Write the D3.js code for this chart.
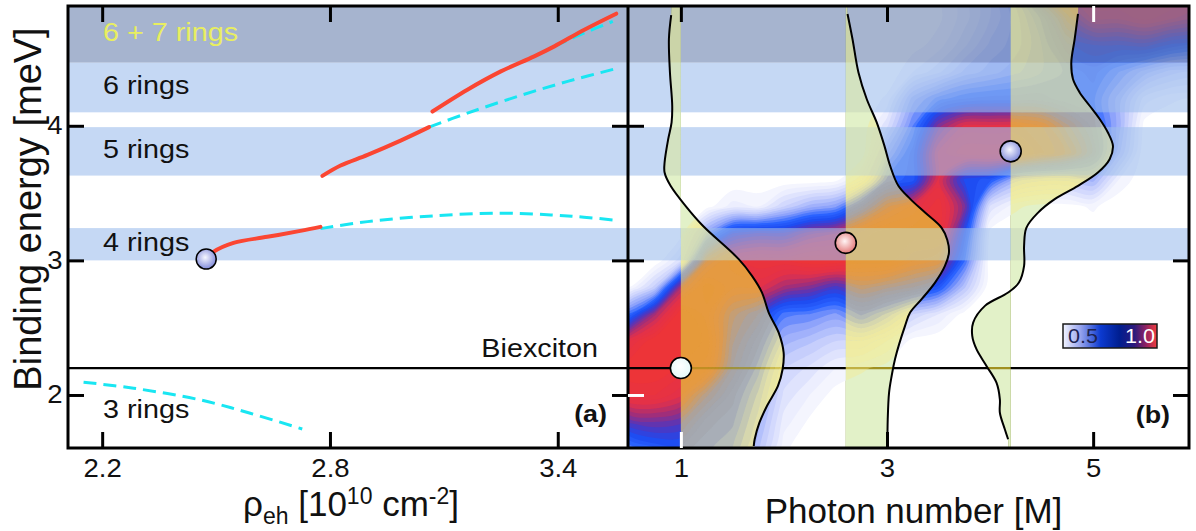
<!DOCTYPE html>
<html>
<head>
<meta charset="utf-8">
<script src="https://cdn.jsdelivr.net/npm/d3@7"></script>
<style>
  html, body { margin: 0; padding: 0; background: #ffffff; }
  svg { display: block; font-family: "Liberation Sans", Arial, Helvetica, sans-serif; }
</style>
</head>
<body>
<svg id="fig" width="1196" height="531"></svg>
<script>
// ---------------- data ----------------
// Ring-number energy bands [meV]
const bandLabels = ["4 rings", "5 rings", "6 rings", "6 + 7 rings"];
const bandLow    = [3.00, 3.63, 4.10, 4.47];
const bandHigh   = [3.24, 3.99, 4.47, 5.00];
const biexcitonEnergy = 2.2;

// Panel (a): binding energy vs pair density
const rhoTicks = [2.2, 2.8, 3.4];
const energyTicks = [2, 3, 4];
// ground-state branches (solid)
const groundRho = [
  [2.474, 2.493, 2.546, 2.635, 2.722, 2.775],
  [2.780, 2.828, 2.899, 2.986, 3.061],
  [3.070, 3.162, 3.250, 3.338, 3.391, 3.470, 3.554]
];
const groundE = [
  [3.010, 3.063, 3.130, 3.175, 3.219, 3.249],
  [3.628, 3.705, 3.784, 3.890, 3.990],
  [4.106, 4.268, 4.404, 4.516, 4.590, 4.714, 4.833]
];
// metastable continuations (dashed)
const excitedRho = [
  [2.151, 2.283, 2.459, 2.590, 2.727],
  [2.775, 2.899, 3.073, 3.250, 3.382, 3.469, 3.561],
  [3.061, 3.162, 3.294, 3.426, 3.561],
  [3.391, 3.470, 3.545]
];
const excitedE = [
  [2.095, 2.050, 1.963, 1.864, 1.747],
  [3.236, 3.288, 3.331, 3.351, 3.338, 3.321, 3.296],
  [3.990, 4.094, 4.218, 4.330, 4.430],
  [4.590, 4.690, 4.775]
];
const markerRho = 2.474, markerE = 3.01;

// Panel (b): binding-energy distribution vs photon number
const photonTicks = [1, 3, 5];
const photonGrid = [0.5, 0.75, 1.0, 1.25, 1.5, 1.75, 2.0, 2.25, 2.5, 2.75, 3.0, 3.25,
                    3.5, 3.75, 4.0, 4.25, 4.5, 4.75, 5.0, 5.25, 5.5, 5.75, 6.0];
const energyGrid = [1.6, 1.8, 2.0, 2.2, 2.4, 2.6, 2.8, 3.0, 3.2, 3.4, 3.6, 3.8, 4.0, 4.2, 4.4, 4.6, 4.8, 5.0];
// one row per energy (low to high), one value per photon number
const density = [
  [0.40,0.48,0.50,0.45,0.40,0.25,0.05,0,0,0,0,0,0,0,0,0,0,0,0,0,0,0,0],
  [0.65,0.68,0.65,0.50,0.45,0.30,0.10,0.03,0,0,0,0,0,0,0,0,0,0,0,0,0,0,0],
  [0.92,0.92,0.85,0.65,0.50,0.35,0.15,0.08,0.02,0,0,0,0,0,0,0,0,0,0,0,0,0,0],
  [1.00,1.00,0.95,0.90,0.60,0.42,0.20,0.15,0.08,0.05,0.02,0,0,0,0,0,0,0,0,0,0,0,0],
  [0.88,1.00,1.00,0.95,0.65,0.50,0.30,0.25,0.20,0.20,0.12,0.02,0,0,0,0,0,0,0,0,0,0,0],
  [0.45,0.75,1.00,0.90,0.70,0.60,0.42,0.40,0.35,0.45,0.35,0.20,0.12,0.02,0,0,0,0,0,0,0,0,0],
  [0.04,0.22,0.75,0.95,0.85,0.85,0.75,0.70,0.62,0.70,0.65,0.60,0.50,0.25,0,0,0,0,0,0,0,0,0],
  [0,0,0.15,0.75,0.90,0.95,0.95,1.00,1.00,0.95,0.95,0.85,0.80,0.45,0,0,0,0,0,0,0,0,0],
  [0,0,0.02,0.35,0.60,0.65,0.65,0.75,0.80,0.90,0.95,0.95,0.95,0.55,0.02,0,0,0,0,0,0,0,0],
  [0,0,0,0.02,0.10,0.08,0.20,0.30,0.35,0.55,0.75,0.85,0.95,0.70,0.15,0.05,0.02,0.02,0.05,0,0,0,0],
  [0,0,0,0,0,0,0,0,0.02,0.15,0.45,0.50,0.85,0.55,0.50,0.30,0.25,0.25,0.30,0.08,0,0,0],
  [0,0,0,0,0,0,0,0,0,0,0.30,0.50,0.85,0.95,0.95,0.95,0.85,0.75,0.55,0.25,0,0,0],
  [0,0,0,0,0,0,0,0,0,0,0.15,0.40,0.70,0.85,0.85,0.85,0.80,0.65,0.50,0.30,0.02,0,0],
  [0,0,0,0,0,0,0,0,0,0,0.05,0.30,0.42,0.48,0.50,0.50,0.50,0.45,0.45,0.30,0.10,0.05,0.03],
  [0,0,0,0,0,0,0,0,0,0,0,0.08,0.15,0.25,0.30,0.35,0.40,0.45,0.50,0.40,0.30,0.22,0.18],
  [0,0,0,0,0,0,0,0,0,0,0,0.02,0.06,0.15,0.25,0.30,0.40,0.55,0.60,0.60,0.62,0.55,0.50],
  [0,0,0,0,0,0,0,0,0,0,0,0,0.03,0.10,0.20,0.30,0.45,0.70,0.85,0.85,0.90,0.85,0.80],
  [0,0,0,0,0,0,0,0,0,0,0,0,0.03,0.10,0.20,0.35,0.70,0.85,0.95,0.95,0.95,0.95,0.90]
];
// photon-number profiles at three energies
const profileBase = [1.0, 2.6, 4.2];
const profileE = [
  [4.823,4.645,4.396,4.149,4.025,3.901,3.727,3.653,3.554,3.405,3.257,3.009,2.885,2.761,2.612,2.463,2.314,2.191,2.067,1.918,1.794,1.671,1.621],
  [4.831,4.645,4.396,4.199,4.025,3.851,3.703,3.554,3.455,3.355,3.242,3.152,3.058,2.959,2.835,2.712,2.612,2.513,2.268,2.141,2.017,1.819,1.621],
  [4.831,4.645,4.471,4.347,4.248,4.149,4.050,3.950,3.851,3.752,3.653,3.554,3.455,3.355,3.242,3.108,2.959,2.835,2.761,2.662,2.538,2.439,2.340,2.216,2.091,1.968,1.868,1.745,1.671]
];
const profileN = [
  [0.906,0.884,0.894,0.916,0.910,0.877,0.842,0.842,0.900,1.045,1.213,1.561,1.690,1.787,1.852,1.949,1.997,1.987,1.942,1.835,1.762,1.716,1.707],
  [2.617,2.665,2.723,2.803,2.900,2.975,3.030,3.110,3.227,3.369,3.530,3.585,3.601,3.562,3.466,3.336,3.224,3.175,3.078,3.045,3.020,3.007,3.004],
  [4.853,4.821,4.788,4.804,4.869,4.966,5.063,5.143,5.192,5.160,5.046,4.853,4.627,4.466,4.352,4.330,4.330,4.280,4.175,3.950,3.836,3.827,3.868,3.965,4.062,4.095,4.095,4.143,4.175]
];
const pointN = [1.0, 2.6, 4.2];
const pointE = [2.2, 3.13, 3.81];
const colorbarTicks = ["0.5", "1.0"];

// ---------------- layout ----------------
const svg = d3.select("#fig");
const plotTop = 6, plotBottom = 448, leftA = 68, mid = 628, rightB = 1189;
const xA = d3.scaleLinear().domain([2.11, 3.585]).range([leftA, mid]);
const xB = d3.scaleLinear().domain([0.487, 5.93]).range([mid, rightB]);
const y  = d3.scaleLinear().domain([1.606, 4.89]).range([plotBottom, plotTop]);

const defs = svg.append("defs");
defs.append("clipPath").attr("id", "plotClip").append("rect")
  .attr("x", leftA).attr("y", plotTop).attr("width", rightB - leftA).attr("height", plotBottom - plotTop);
defs.append("clipPath").attr("id", "clipB").append("rect")
  .attr("x", mid).attr("y", plotTop).attr("width", rightB - mid).attr("height", plotBottom - plotTop);
const fillClip = defs.append("clipPath").attr("id", "fillClip");
// tint is subdued where the ring bands lie
const tintMask = defs.append("mask").attr("id", "tintMask").attr("maskUnits", "userSpaceOnUse")
  .attr("x", 0).attr("y", 0).attr("width", 1196).attr("height", 531);
tintMask.append("rect").attr("x", 0).attr("y", 0).attr("width", 1196).attr("height", 531).attr("fill", "#fff");
bandLow.forEach((lo, i) => {
  tintMask.append("rect").attr("x", leftA).attr("width", rightB - leftA)
    .attr("y", y(bandHigh[i])).attr("height", y(lo) - y(bandHigh[i])).attr("fill", "#404040");
});

function radial(id, inner, outer) {
  const g = defs.append("radialGradient").attr("id", id)
    .attr("cx", "45%").attr("cy", "42%").attr("r", "60%");
  g.append("stop").attr("offset", "0%").attr("stop-color", inner);
  g.append("stop").attr("offset", "100%").attr("stop-color", outer);
}
radial("dotBlue", "#f6f7ff", "#7d87d9");
radial("dotPink", "#fff4f4", "#e27676");
radial("dotWhite", "#ffffff", "#e4f8f8");
const markerFills = ["url(#dotWhite)", "url(#dotPink)", "url(#dotBlue)"];

const cb = defs.append("linearGradient").attr("id", "cbar");
[["0%", "#f2f4ff"], ["18%", "#9aa6ee"], ["40%", "#0c3ad0"], ["60%", "#001e90"],
 ["76%", "#2c1a7c"], ["88%", "#8e2262"], ["100%", "#f23c3c"]]
  .forEach(([o, c]) => cb.append("stop").attr("offset", o).attr("stop-color", c));

// colour map for the distribution
const heatColor = d3.scaleLinear()
  .domain([0, 0.10, 0.22, 0.34, 0.46, 0.55, 0.64, 0.74, 0.84, 1.0])
  .range(["#ffffff", "#eceefe", "#c6cefc", "#8ea3fb", "#2a62ff", "#1d4af0", "#5236bc", "#a02e7a", "#e2304a", "#ef3535"])
  .clamp(true);
// tint of the distribution as seen through the profile areas
const tintColor = d3.scaleLinear()
  .domain([0, 0.30, 0.45, 0.60, 0.75, 1.0])
  .range(["#fff08a", "#fff08a", "#9c9a8c", "#9c9a8c", "#f68c2a", "#f68c2a"]).clamp(true);
const tintOpacity = d3.scaleLinear()
  .domain([0.04, 0.10, 0.20, 0.30, 0.40, 0.50, 0.62, 0.75, 0.95])
  .range([0.35, 0.55, 0.62, 0.42, 0.25, 0.35, 0.25, 0.35, 0.4]).clamp(true);

const plot = svg.append("g").attr("clip-path", "url(#plotClip)");

// ---- heat map (filled iso-bands) ----
const nx = photonGrid.length, ny = energyGrid.length;
const levels = d3.range(0.04, 0.99, 0.04);
const bandsIso = d3.contours().size([nx, ny]).thresholds(levels)(density.flat());
const gxToN = d3.scaleLinear().domain([0.5, nx - 0.5]).range([photonGrid[0], photonGrid[nx - 1]]);
const gyToE = d3.scaleLinear().domain([0.5, ny - 0.5]).range([energyGrid[0], energyGrid[ny - 1]]);
const ringPath = d3.line()
  .x(p => xB(gxToN(p[0])))
  .y(p => y(gyToE(p[1])))
  .curve(d3.curveCatmullRomClosed.alpha(0.5));
const isoPath = c => c.coordinates.map(poly => poly.map(r => ringPath(r.slice(0, -1))).join("")).join("");
const heat = plot.append("g").attr("clip-path", "url(#clipB)");
heat.selectAll("path").data(bandsIso).join("path")
  .attr("fill-rule", "evenodd")
  .attr("fill", d => heatColor(d.value + 0.02))
  .attr("d", isoPath);

// ---- ring bands (translucent, across both panels) ----
plot.selectAll("rect.band").data(bandLabels).join("rect")
  .attr("class", "band")
  .attr("x", leftA).attr("width", rightB - leftA)
  .attr("y", (d, i) => y(bandHigh[i]))
  .attr("height", (d, i) => y(bandLow[i]) - y(bandHigh[i]))
  .attr("fill", (d, i) => i === bandLabels.length - 1 ? "#6b82af" : "#9ebeed")
  .attr("fill-opacity", 0.6);

// ---- biexciton level ----
plot.append("line")
  .attr("x1", leftA).attr("x2", rightB)
  .attr("y1", y(biexcitonEnergy)).attr("y2", y(biexcitonEnergy))
  .attr("stroke", "#000").attr("stroke-width", 2.2);

// ---- panel (a) curves ----
const lineA = d3.line().x(d => xA(d[0])).y(d => y(d[1])).curve(d3.curveCatmullRom.alpha(0.5));
excitedRho.forEach((xs, k) => {
  plot.append("path").attr("d", lineA(xs.map((v, i) => [v, excitedE[k][i]])))
    .attr("fill", "none").attr("stroke", "#19e6f2").attr("stroke-width", 3)
    .attr("stroke-dasharray", "13 7");
});
groundRho.forEach((xs, k) => {
  plot.append("path").attr("d", lineA(xs.map((v, i) => [v, groundE[k][i]])))
    .attr("fill", "none").attr("stroke", "#fb4632").attr("stroke-width", 4)
    .attr("stroke-linecap", "round");
});
plot.append("circle").attr("cx", xA(markerRho)).attr("cy", y(markerE)).attr("r", 10)
  .attr("fill", "url(#dotBlue)").attr("stroke", "#000").attr("stroke-width", 1.5);

// ---- panel (b) photon-number profiles ----
const eTop = y.domain()[1] + 0.1, eBot = y.domain()[0] - 0.1;
profileBase.forEach((base, k) => {
  const pts = profileE[k].map((e, i) => ({ e, n: profileN[k][i] }));
  const ext = [{ e: eTop, n: pts[0].n }, ...pts, { e: eBot, n: pts[pts.length - 1].n }];
  const area = d3.area().y(d => y(d.e)).x0(xB(base)).x1(d => xB(d.n)).curve(d3.curveCatmullRom.alpha(0.5));
  plot.append("path").attr("d", area(ext)).attr("fill", "#b2dfc0").style("mix-blend-mode", "multiply");
  plot.append("path").attr("d", area(ext)).attr("fill", "#a09020").style("mix-blend-mode", "screen");
  fillClip.append("path").attr("d", area(ext));
});
// distribution levels seen through the profile areas
const tint = plot.append("g").attr("clip-path", "url(#fillClip)").attr("mask", "url(#tintMask)");
bandsIso.forEach((c, k) => {
  const inner = k + 1 < bandsIso.length ? isoPath(bandsIso[k + 1]) : "";
  tint.append("path")
    .attr("d", isoPath(c) + inner)
    .attr("fill-rule", "evenodd")
    .attr("fill", tintColor(c.value))
    .attr("fill-opacity", tintOpacity(c.value));
});
const lineB = d3.line().x(d => xB(d.n)).y(d => y(d.e)).curve(d3.curveCatmullRom.alpha(0.5));
profileBase.forEach((base, k) => {
  plot.append("path")
    .attr("d", lineB(profileE[k].map((e, i) => ({ e, n: profileN[k][i] }))))
    .attr("fill", "none").attr("stroke", "#000").attr("stroke-width", 2);
});
pointN.forEach((n, i) => {
  plot.append("circle").attr("cx", xB(n)).attr("cy", y(pointE[i])).attr("r", 10.5)
    .attr("fill", markerFills[i]).attr("stroke", "#000").attr("stroke-width", 1.6);
});

// ---- colour bar ----
const cbg = svg.append("g");
cbg.append("rect").attr("x", 1063).attr("y", 324).attr("width", 94).attr("height", 24)
  .attr("fill", "url(#cbar)").attr("stroke", "#1a1a1a").attr("stroke-width", 1.5);
cbg.append("text").attr("transform", "translate(1068,343) scale(1.08,1)")
  .attr("font-size", 20).attr("fill", "#1c2352").text(colorbarTicks[0]);
cbg.append("text").attr("transform", "translate(1155,343) scale(1.08,1)")
  .attr("text-anchor", "end").attr("font-size", 20).attr("fill", "#ffffff").text(colorbarTicks[1]);

// ---- frames ----
svg.append("rect").attr("x", leftA).attr("y", plotTop).attr("width", rightB - leftA).attr("height", plotBottom - plotTop)
  .attr("fill", "none").attr("stroke", "#000").attr("stroke-width", 3);
svg.append("line").attr("x1", mid).attr("x2", mid).attr("y1", plotTop).attr("y2", plotBottom)
  .attr("stroke", "#000").attr("stroke-width", 3);

// ---- axes (inward ticks) ----
const TICK = 16;
function styleAxis(g, labels, lightValues) {
  g.select(".domain").remove();
  g.selectAll(".tick line").attr("stroke-width", 3)
    .attr("stroke", d => (lightValues || []).includes(d) ? "#ffffff" : "#000000");
  if (!labels) g.selectAll(".tick text").remove();
  else g.selectAll(".tick text").attr("font-size", 25).attr("fill", "#111")
    .attr("font-family", "Liberation Sans, Arial, sans-serif")
    .attr("transform", "scale(1.1,1)");
}
svg.append("g").attr("transform", `translate(0,${plotBottom})`)
  .call(d3.axisBottom(xA).tickValues(rhoTicks).tickSize(-TICK).tickPadding(11).tickFormat(d3.format(".1f")))
  .call(g => styleAxis(g, true));
svg.append("g").attr("transform", `translate(0,${plotTop})`)
  .call(d3.axisTop(xA).tickValues(rhoTicks).tickSize(-TICK))
  .call(g => styleAxis(g, false));
svg.append("g").attr("transform", `translate(0,${plotBottom})`)
  .call(d3.axisBottom(xB).tickValues(photonTicks).tickSize(-TICK).tickPadding(11).tickFormat(d3.format("d")))
  .call(g => styleAxis(g, true, [1]));
svg.append("g").attr("transform", `translate(0,${plotTop})`)
  .call(d3.axisTop(xB).tickValues(photonTicks).tickSize(-TICK))
  .call(g => styleAxis(g, false, [5]));
svg.append("g").attr("transform", `translate(${leftA},0)`)
  .call(d3.axisLeft(y).tickValues(energyTicks).tickSize(-TICK).tickPadding(5).tickFormat(d3.format("d")))
  .call(g => styleAxis(g, true));
svg.append("g").attr("transform", `translate(${mid},0)`)
  .call(d3.axisRight(y).tickValues(energyTicks).tickSize(-TICK))
  .call(g => styleAxis(g, false));
svg.append("g").attr("transform", `translate(${mid},0)`)
  .call(d3.axisLeft(y).tickValues(energyTicks).tickSize(-TICK))
  .call(g => styleAxis(g, false, [2]));
svg.append("g").attr("transform", `translate(${rightB},0)`)
  .call(d3.axisRight(y).tickValues(energyTicks).tickSize(-TICK))
  .call(g => styleAxis(g, false));

// ---- in-plot labels ----
function wideText(x, yy, str, opts = {}) {
  return svg.append("text")
    .attr("transform", `translate(${x},${yy}) scale(${opts.sx || 1.15},1)`)
    .attr("font-size", opts.size || 25)
    .attr("font-weight", opts.weight || "normal")
    .attr("text-anchor", opts.anchor || "start")
    .attr("fill", opts.fill || "#111")
    .text(str);
}
bandLabels.forEach((lab, i) => {
  const yHi = Math.max(y(bandHigh[i]), plotTop), yLo = y(bandLow[i]);
  wideText(103, (yHi + yLo) / 2 + 7, lab, { fill: i === bandLabels.length - 1 ? "#e8ee60" : "#111" });
});
wideText(103, y(1.83), "3 rings");
wideText(598, y(biexcitonEnergy) - 11, "Biexciton", { anchor: "end" });
wideText(607, 422, "(a)", { anchor: "end", weight: "bold", size: 24, sx: 1.12 });
wideText(1170, 423, "(b)", { anchor: "end", weight: "bold", size: 24, sx: 1.12 });

// ---- axis titles ----
svg.append("text")
  .attr("transform", `translate(41,${(plotTop + plotBottom) / 2 - 18}) rotate(-90)`)
  .attr("text-anchor", "middle").attr("font-size", 38).attr("fill", "#111")
  .text("Binding energy [meV]");

const xt = svg.append("text").attr("x", (leftA + mid) / 2 + 3).attr("y", 516)
  .attr("text-anchor", "middle").attr("font-size", 35).attr("fill", "#111");
xt.append("tspan").text("ρ");
xt.append("tspan").attr("font-size", 23).attr("dy", 8).text("eh");
xt.append("tspan").attr("dy", -8).text(" [10");
xt.append("tspan").attr("font-size", 23).attr("dy", -12).text("10");
xt.append("tspan").attr("dy", 12).text(" cm");
xt.append("tspan").attr("font-size", 23).attr("dy", -12).text("-2");
xt.append("tspan").attr("dy", 12).text("]");

svg.append("text").attr("x", (mid + rightB) / 2 + 5).attr("y", 523)
  .attr("text-anchor", "middle").attr("font-size", 35).attr("fill", "#111")
  .text("Photon number [M]");
</script>
</body>
</html>
